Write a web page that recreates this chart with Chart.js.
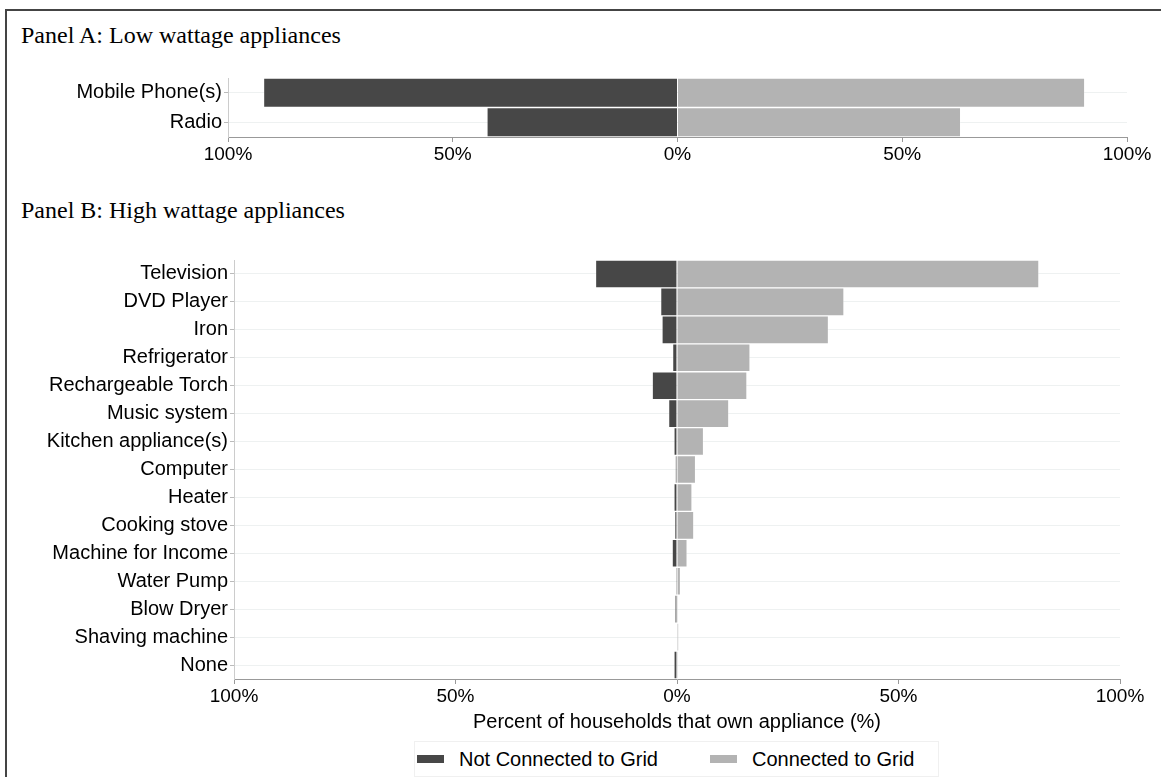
<!DOCTYPE html>
<html>
<head>
<meta charset="utf-8">
<script src="https://cdn.jsdelivr.net/npm/chart.js@4"></script>
<style>
  body { margin: 0; background: #fff; width: 1161px; height: 777px; overflow: hidden; position: relative; }
  .frame { position: absolute; left: 5px; top: 9px; width: 1180px; height: 800px; border: 2px solid #444; box-sizing: border-box; }
  .panel-title { position: absolute; left: 21px; font-family: "Liberation Serif", "Times New Roman", serif; font-size: 24px; line-height: 24px; color: #000; white-space: nowrap; }
  .wrap { position: absolute; left: 0; }
  #legend { position: absolute; left: 414px; top: 741px; width: 525px; height: 36px; border: 1px solid #f0f0f0; box-sizing: border-box;
            font-family: "Liberation Sans", Arial, sans-serif; font-size: 20px; color: #000; }
  #legend .item { position: absolute; top: 0; height: 34px; line-height: 34px; white-space: nowrap; }
  #legend .swatch { display: inline-block; width: 27px; height: 8px; vertical-align: middle; margin-right: 15px; position: relative; top: -2px; }
</style>
</head>
<body>
<div class="frame"></div>
<div class="panel-title" style="top:23px">Panel A: Low wattage appliances</div>
<div class="panel-title" style="top:198px">Panel B: High wattage appliances</div>
<div class="wrap" style="top:0"><canvas id="panelA" width="1161" height="175"></canvas></div>
<div class="wrap" style="top:230px"><canvas id="panelB" width="1161" height="510"></canvas></div>
<div id="legend"></div>
<script>
// Panel A: low wattage
const lowCategories = ['Mobile Phone(s)', 'Radio'];
const lowNotConnected = [92.1, 42.4];
const lowConnected = [90.6, 63.0];

// Panel B: high wattage
const highCategories = ['Television', 'DVD Player', 'Iron', 'Refrigerator', 'Rechargeable Torch', 'Music system',
  'Kitchen appliance(s)', 'Computer', 'Heater', 'Cooking stove', 'Machine for Income', 'Water Pump',
  'Blow Dryer', 'Shaving machine', 'None'];
const highNotConnected = [18.4, 3.7, 3.4, 1.0, 5.6, 1.9, 0.7, 0.3, 0.7, 0.5, 1.1, 0.1, 0.4, 0.0, 0.7];
const highConnected = [81.7, 37.7, 34.2, 16.5, 15.8, 11.7, 6.0, 4.2, 3.4, 3.8, 2.3, 0.8, 0.1, 0.3, 0.1];

const seriesLabels = ['Not Connected to Grid', 'Connected to Grid'];
const seriesColors = ['#474747', '#b3b3b3'];
const tickStep = 50;
const axisTitle = 'Percent of households that own appliance (%)';

const sans = "'Liberation Sans', Arial, sans-serif";

function makePanel(id, categories, notConn, conn, cfg) {
    const ctx = document.getElementById(id).getContext('2d');
    return new Chart(ctx, {
        type: 'bar',
        data: {
            labels: categories,
            datasets: [{
                label: seriesLabels[0],
                data: notConn.map(v => -v),   // plotted to the left
                backgroundColor: seriesColors[0],
                borderColor: 'rgba(255,255,255,0.2)',
                borderWidth: 1
            }, {
                label: seriesLabels[1],
                data: conn,
                backgroundColor: seriesColors[1],
                borderColor: 'rgba(255,255,255,0.25)',
                borderWidth: 1
            }]
        },
        options: {
            indexAxis: 'y',
            responsive: false,
            animation: false,
            layout: { padding: { top: cfg.top, right: cfg.right, left: 0, bottom: 0 } },
            datasets: { bar: { categoryPercentage: 1, barPercentage: 1 } },
            plugins: { legend: { display: false }, tooltip: { enabled: false } },
            scales: {
                x: {
                    stacked: true,
                    min: -100, max: 100,
                    afterFit: s => { s.height = cfg.xHeight; },
                    ticks: {
                        stepSize: tickStep,
                        color: '#000',
                        padding: 1,
                        maxRotation: 0,
                        font: { family: sans, size: 19 },
                        callback: v => Math.abs(v) + '%'
                    },
                    grid: { drawOnChartArea: false, drawTicks: true, tickLength: 5, tickColor: '#999' },
                    border: { color: '#999' },
                    title: {
                        display: !!cfg.title,
                        text: cfg.title || '',
                        color: '#000',
                        font: { family: sans, size: 20 },
                        padding: { top: 0, bottom: 6 }
                    }
                },
                y: {
                    stacked: true,
                    afterFit: s => { s.width = cfg.yWidth; },
                    ticks: { color: '#000', padding: 2, font: { family: sans, size: 20 } },
                    grid: { offset: false, color: '#eef1f1', tickColor: '#bbb', tickLength: 4 },
                    border: { color: '#ccc' }
                }
            }
        }
    });
}

const chartA = makePanel('panelA', lowCategories, lowNotConnected, lowConnected,
    { top: 78, right: 34, xHeight: 38, yWidth: 228 });
const chartB = makePanel('panelB', highCategories, highNotConnected, highConnected,
    { top: 30, right: 41, xHeight: 61, yWidth: 234, title: axisTitle });

// legend built from the chart's datasets
const legend = document.getElementById('legend');
const itemLeft = [2, 295];
chartB.data.datasets.forEach((ds, i) => {
    const item = document.createElement('div');
    item.className = 'item';
    item.style.left = itemLeft[i] + 'px';
    const sw = document.createElement('span');
    sw.className = 'swatch';
    sw.style.background = ds.backgroundColor;
    item.appendChild(sw);
    item.appendChild(document.createTextNode(ds.label));
    legend.appendChild(item);
});
</script>
</body>
</html>
